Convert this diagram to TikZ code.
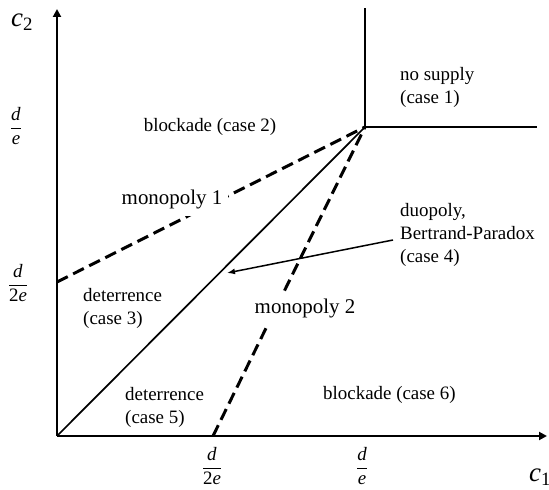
\documentclass[tikz,border=0pt]{standalone}
\usepackage{fontspec}
\setmainfont{Liberation Serif}
\usetikzlibrary{arrows.meta,positioning}

\begin{document}
\begin{tikzpicture}[x=1bp,y=1bp,
    lbl/.style={font=\fontsize{19}{23}\selectfont, align=left, inner sep=0pt},
    mono/.style={font=\fontsize{21}{25}\selectfont, fill=white, inner sep=6bp},
    tick/.style={font=\fontsize{19}{23}\selectfont, inner sep=0pt},
    clbl/.style={font=\fontsize{27}{30}\selectfont, inner sep=0pt},
    axis/.style={-{Triangle[length=8bp,width=8bp]}, line width=2.2bp},
    bound/.style={line width=2.2bp},
    diag/.style={line width=1.7bp},
    mline/.style={line width=3bp, dash pattern=on 12bp off 6bp},
    pointer/.style={-{Latex[length=8bp,width=6bp]}, line width=1.5bp}
]
\useasboundingbox (0,0) rectangle (549,490);
\coordinate (O) at (57,54);
\coordinate (P) at (365,363);
\coordinate (xhalf) at (213,54);
\coordinate (yhalf) at (57,208);
\coordinate (ytip) at (57,481);
\coordinate (xtip) at (547,54);
\coordinate (ptop) at (365,482);
\coordinate (pright) at (537,363);
\coordinate (hit) at (227,217);

\draw[axis] (O) -- (ytip);
\draw[axis] (O) -- (xtip);
\draw[bound] (P) -- (ptop);
\draw[bound] (P) -- (pright);
\draw[diag] (O) -- (P);
\draw[mline] (yhalf) -- (P);
\draw[mline] (xhalf) -- (P);

\node[mono] (mono1) at (172,290) {monopoly 1};
\node[mono] (mono2) at (305,181) {monopoly 2};

\node[clbl] (c2) at (22,468) {\textit{c}\textsubscript{2}};
\node[clbl] (c1) at (540,13) {\textit{c}\textsubscript{1}};
\node[tick] (yde) at (16,364) {$\displaystyle\frac{\mbox{\textit{d}}}{\mbox{\textit{e}}}$};
\node[tick] (yd2e) at (18,207) {$\displaystyle\frac{\mbox{\textit{d}}}{\mbox{2\textit{e}}}$};
\node[tick] (xd2e) at (212,24) {$\displaystyle\frac{\mbox{\textit{d}}}{\mbox{2\textit{e}}}$};
\node[tick] (xde) at (362,24) {$\displaystyle\frac{\mbox{\textit{d}}}{\mbox{\textit{e}}}$};

\node[lbl, anchor=west] (case1) at (400,403) {no supply\\(case 1)};
\node[lbl] (case2) at (210,363) {blockade (case 2)};
\node[lbl, anchor=west] (case3) at (83,182) {deterrence\\(case 3)};
\node[lbl, anchor=west] (case4) at (400,255) {duopoly,\\Bertrand-Paradox\\(case 4)};
\node[lbl, anchor=west] (case5) at (125,83) {deterrence\\(case 5)};
\node[lbl, anchor=west] (case6) at (323,95) {blockade (case 6)};

\draw[pointer] ([xshift=-7bp,yshift=-5bp]case4.west) -- (hit);
\end{tikzpicture}
\end{document}
